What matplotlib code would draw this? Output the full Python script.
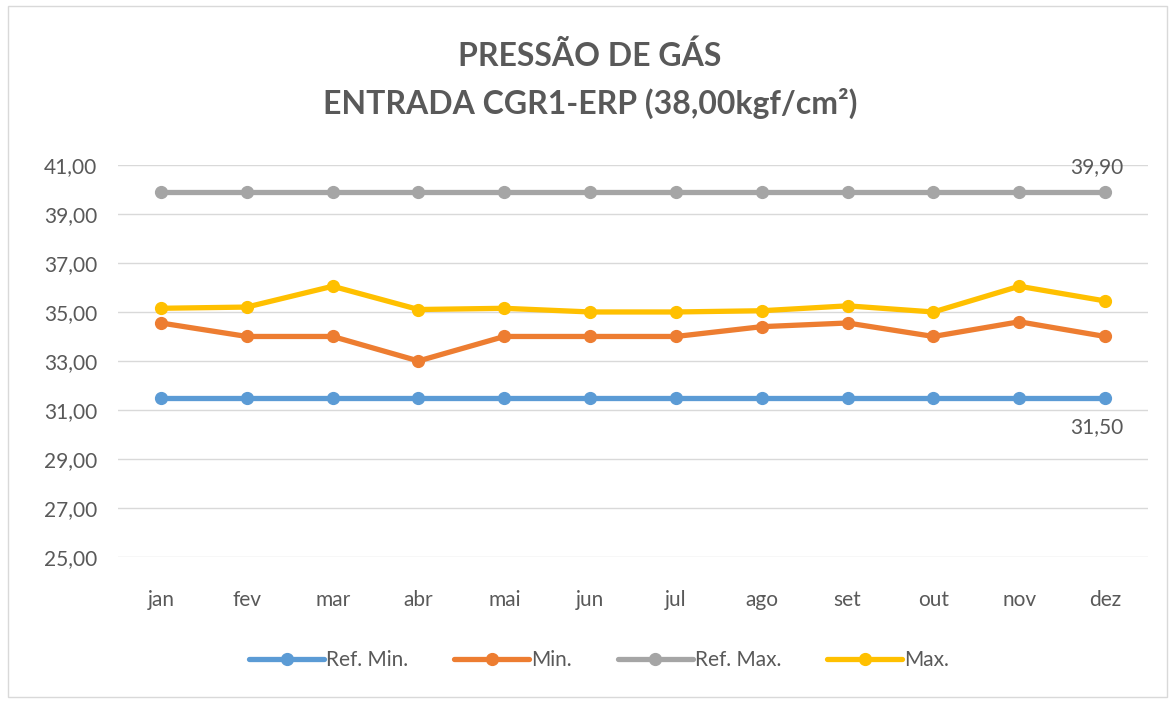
import matplotlib.pyplot as plt
from matplotlib.patches import Rectangle

meses = ["jan", "fev", "mar", "abr", "mai", "jun", "jul", "ago", "set", "out", "nov", "dez"]
ref_min = [31.5] * 12
minimo = [34.55, 34.0, 34.0, 33.0, 34.0, 34.0, 34.0, 34.4, 34.55, 34.0, 34.6, 34.0]
ref_max = [39.9] * 12
maximo = [35.15, 35.2, 36.05, 35.1, 35.15, 35.0, 35.0, 35.05, 35.25, 35.0, 36.05, 35.45]
yticks = [25, 27, 29, 31, 33, 35, 37, 39, 41]

series = [
    ("Ref. Min.", ref_min, "#5B9BD5"),
    ("Min.", minimo, "#ED7D31"),
    ("Ref. Max.", ref_max, "#A5A5A5"),
    ("Max.", maximo, "#FFC000"),
]

def fmt(v):
    return f"{v:.2f}".replace(".", ",")

def main():
    plt.rcParams['font.family'] = ['Lato', 'DejaVu Sans']
    txt = "#595959"

    fig = plt.figure(figsize=(11.75, 7.02), dpi=100)
    ax = fig.add_axes([0.1005, 0.2066, 0.8765, 0.5584])

    x = list(range(len(meses)))
    for nome, vals, cor in series:
        ax.plot(x, vals, color=cor, lw=3.8, marker="o", ms=8.5, label=nome,
                solid_capstyle="round")

    ax.set_xlim(-0.5, 11.5)
    ax.set_ylim(25, 41)
    ax.set_yticks(yticks)
    ax.set_yticklabels([fmt(v) for v in yticks])
    ax.set_xticks(x)
    ax.set_xticklabels(meses)
    ax.grid(axis="y", color="#D9D9D9", lw=1)
    ax.set_axisbelow(True)
    for s in ax.spines.values():
        s.set_visible(False)
    ax.tick_params(length=0, labelsize=15, colors=txt)
    ax.tick_params(axis="x", pad=24)
    ax.tick_params(axis="y", pad=15)

    # rótulos do último ponto
    ax.annotate(fmt(ref_max[-1]), (11, ref_max[-1]), xytext=(-6, 11),
                textcoords="offset points", ha="center", va="bottom",
                fontsize=15, color=txt)
    ax.annotate(fmt(ref_min[-1]), (11, ref_min[-1]), xytext=(-6, -14),
                textcoords="offset points", ha="center", va="top",
                fontsize=15, color=txt)

    fig.text(0.502, 0.921, "PRESSÃO DE GÁS", ha="center", va="center",
             fontsize=23, fontweight="bold", color=txt)
    fig.text(0.502, 0.853, "ENTRADA CGR1-ERP (38,00kgf/cm²)", ha="center", va="center",
             fontsize=23, fontweight="bold", color=txt)

    fig.legend(loc="center", bbox_to_anchor=(0.51, 0.06), ncol=4, frameon=False,
               fontsize=15, labelcolor=txt, handlelength=3.6, handletextpad=0.1,
               columnspacing=2.2)

    fig.patches.append(Rectangle((0.007, 0.007), 0.986, 0.985, transform=fig.transFigure,
                                 fill=False, edgecolor="#D9D9D9", lw=1))

    fig.savefig("out.png", dpi=100)

if __name__ == '__main__':
    main()
